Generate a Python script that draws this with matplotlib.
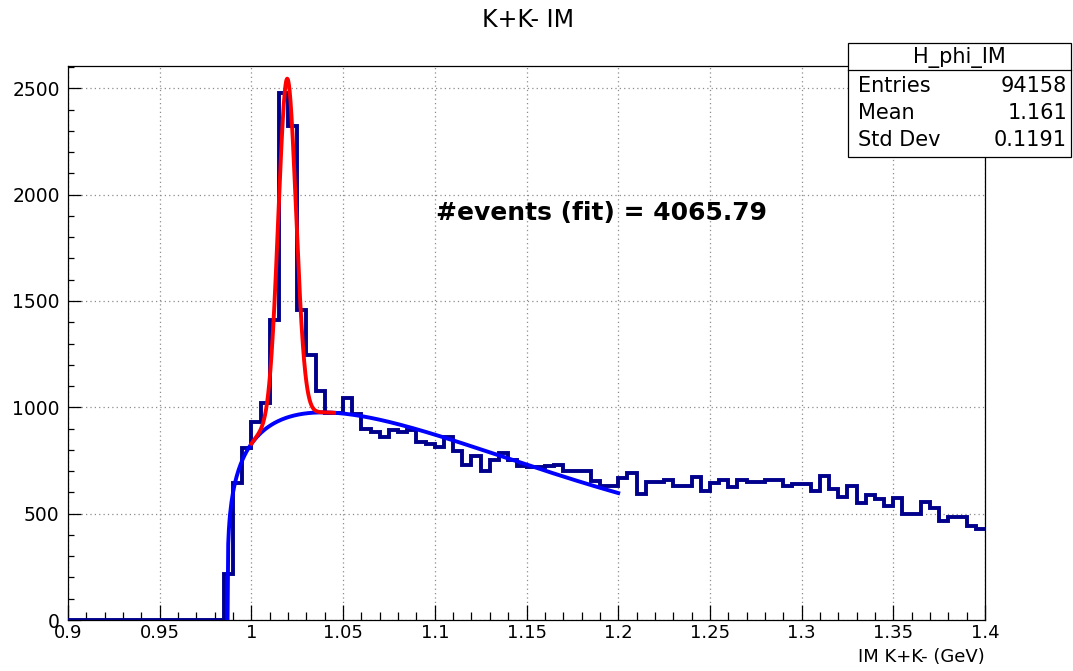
import numpy as np
import matplotlib
matplotlib.use("Agg")
import matplotlib.pyplot as plt
from matplotlib.ticker import MultipleLocator, FuncFormatter
from matplotlib.patches import Rectangle

# ---------------- data ----------------
x_min, x_max = 0.9, 1.4
counts = [0] * 17 + [
    215, 645, 810, 932, 1021, 1412, 2480, 2323, 1460, 1248,
    1078, 975, 975, 1042, 970, 900, 885, 862, 895, 885,
    892, 837, 829, 813, 860, 797, 730, 770, 700, 750,
    785, 752, 722, 720, 720, 722, 731, 700, 700, 700,
    652, 629, 629, 668, 692, 592, 650, 650, 657, 629,
    629, 673, 605, 644, 660, 624, 657, 649, 649, 657,
    657, 629, 640, 640, 608, 679, 616, 578, 629, 550,
    589, 569, 535, 574, 500, 500, 553, 527, 464, 484,
    484, 443, 428]

# fit parameters (background: threshold * quadratic, signal: gaussian)
bkg_x0 = 0.987
bkg_pow = 0.25
bkg_coef = [2601.0, -11553.0, 16277.0]
bkg_range = (0.987, 1.2)
sig_amp = 1593.0
sig_mu = 1.0195
sig_sigma = 0.0048
sig_range = (1.0, 1.045)

title = "K+K- IM"
xlabel = "IM K+K- (GeV)"
annotation = "#events (fit) = 4065.79"
stats_name = "H_phi_IM"
stats_rows = [("Entries", "94158"), ("Mean", "1.161"), ("Std Dev", "0.1191")]


def bkg(x):
    d = np.clip(x - bkg_x0, 0, None)
    return d ** bkg_pow * (bkg_coef[0] + bkg_coef[1] * d + bkg_coef[2] * d ** 2)


def total(x):
    return bkg(x) + sig_amp * np.exp(-0.5 * ((x - sig_mu) / sig_sigma) ** 2)


# ---------------- figure ----------------
W, H = 1073, 671
fig = plt.figure(figsize=(W / 100, H / 100), dpi=100)
L, R, T, B = 68, 985, 66, 620
ax = fig.add_axes([L / W, 1 - B / H, (R - L) / W, (B - T) / H])

edges = np.linspace(x_min, x_max, len(counts) + 1)
ax.stairs(counts, edges, baseline=None, color="#00008c", lw=2.8, zorder=3)

xb = np.linspace(bkg_range[0], bkg_range[1], 600)
ax.plot(xb, bkg(xb), color="#0000ff", lw=2.8, zorder=4)
xs = np.linspace(sig_range[0], sig_range[1], 400)
ax.plot(xs, total(xs), color="#ff0000", lw=2.8, zorder=5)

ax.set_xlim(x_min, x_max)
ax.set_ylim(0, 2605)

ax.xaxis.set_major_locator(MultipleLocator(0.05))
ax.xaxis.set_minor_locator(MultipleLocator(0.01))
ax.yaxis.set_major_locator(MultipleLocator(500))
ax.yaxis.set_minor_locator(MultipleLocator(100))
ax.xaxis.set_major_formatter(FuncFormatter(lambda v, p: f"{v:g}"))
ax.yaxis.set_major_formatter(FuncFormatter(lambda v, p: f"{v:g}"))

ax.tick_params(axis="x", which="major", direction="in", length=11, width=0.9,
               labelsize=13, pad=3)
ax.tick_params(axis="x", which="minor", direction="in", length=5.5, width=0.9)
ax.tick_params(axis="y", which="major", direction="in", length=9, width=0.9,
               labelsize=13.5, pad=6)
ax.tick_params(axis="y", which="minor", direction="in", length=4.5, width=0.9)

ax.grid(True, which="major", color="#8c8c8c", lw=0.9, linestyle=(0, (1, 2.5)))
ax.set_axisbelow(True)
for s in ax.spines.values():
    s.set_linewidth(0.9)

# title
fig.text(528 / W, 1 - 20 / H, title, ha="center", va="center", fontsize=17)
# x-axis label
fig.text(R / W, 1 - 657 / H, xlabel, ha="right", va="center", fontsize=13)
# annotation
fig.text(601 / W, 1 - 213 / H, annotation, ha="center", va="center",
         fontsize=18, fontweight="bold", zorder=6)

# stats box
bx0, bx1, by0, by1, bsep = 848, 1071, 43, 157, 70
fig.patches.append(Rectangle((bx0 / W, 1 - by1 / H), (bx1 - bx0) / W,
                             (by1 - by0) / H, transform=fig.transFigure,
                             facecolor="white", edgecolor="black", lw=0.9,
                             zorder=10))
fig.lines.append(plt.Line2D([bx0 / W, bx1 / W], [1 - bsep / H, 1 - bsep / H],
                            transform=fig.transFigure, color="black", lw=0.9,
                            zorder=11))
fig.text((bx0 + bx1) / 2 / W, 1 - 57 / H, stats_name, ha="center", va="center",
         fontsize=15, zorder=12)
for i, (k, v) in enumerate(stats_rows):
    yy = 1 - (86 + 27 * i) / H
    fig.text(858 / W, yy, k, ha="left", va="center", fontsize=15, zorder=12)
    fig.text(1067 / W, yy, v, ha="right", va="center", fontsize=15, zorder=12)

fig.savefig("out.png", dpi=100)
